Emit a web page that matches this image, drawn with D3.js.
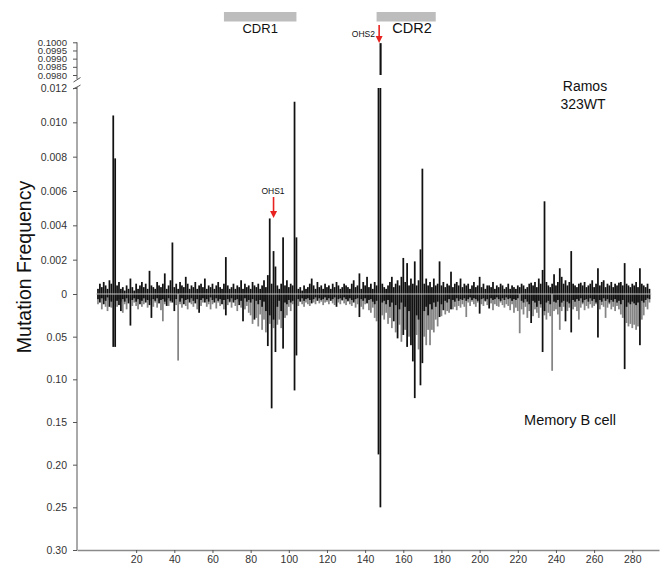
<!DOCTYPE html>
<html>
<head>
<meta charset="utf-8">
<script src="https://cdn.jsdelivr.net/npm/d3@7"></script>
<style>
  html, body { margin: 0; padding: 0; background: #fff; }
  svg { display: block; font-family: "Liberation Sans", Arial, Helvetica, sans-serif; }
</style>
</head>
<body>
<svg id="chart" width="660" height="565"></svg>
<script>
// Ramos 323WT mutation frequency per position (upper), x 1e-3
const ramosUpper = [
  0.3,0.6,0.4,0.7,0.5,0.3,0.8,0.6,10.4,7.9,
  0.5,0.7,0.3,0.4,0.2,0.5,0.3,0.9,0.4,0.2,
  0.6,0.3,0.5,0.7,0.4,0.6,0.3,1.35,0.5,0.4,
  0.3,0.7,0.5,0.4,0.6,1.2,0.3,0.5,0.8,3.0,
  0.4,0.6,0.3,0.7,0.5,0.4,1.0,0.6,0.3,0.5,
  0.4,0.7,0.3,0.5,0.6,0.4,0.9,0.3,0.5,0.4,
  0.6,0.3,0.5,0.7,0.4,0.3,0.6,2.15,0.5,0.3,
  0.4,0.6,0.3,0.5,0.4,0.8,0.3,0.6,0.4,0.5,
  0.3,0.7,0.5,0.4,0.6,0.3,0.5,0.8,0.4,1.1,
  4.4,0.6,2.5,1.6,0.5,0.3,0.6,3.3,0.5,0.8,
  0.4,0.6,0.5,11.2,3.3,0.3,0.4,0.2,0.5,0.3,
  0.4,0.6,0.9,0.5,0.3,0.7,0.4,0.5,0.3,0.6,
  0.4,0.5,0.3,0.6,0.4,0.7,0.5,0.3,0.4,0.6,
  0.5,0.4,0.3,0.6,0.8,0.4,0.5,1.2,0.3,0.7,
  0.5,1.0,0.4,0.6,0.3,0.7,0.5,45,99.95,0.6,
  0.4,0.3,0.5,0.7,1.0,0.4,0.6,0.8,0.5,1.0,
  2.1,0.7,1.8,0.5,0.9,0.6,1.9,0.5,0.8,2.6,
  7.3,0.6,0.9,0.5,0.7,0.4,0.9,0.5,0.6,1.9,
  0.5,0.7,0.4,0.6,0.5,1.3,0.4,0.6,0.7,0.5,
  0.9,0.4,0.6,0.5,0.6,0.3,0.5,0.7,0.4,0.5,
  1.0,0.4,0.6,0.3,0.5,0.5,0.4,0.7,0.3,0.5,
  0.4,0.6,0.5,0.3,0.4,0.6,0.3,0.5,0.4,0.3,
  0.5,0.4,0.6,0.5,0.3,0.4,0.6,0.66,0.5,0.7,
  0.4,0.9,0.6,1.4,5.4,0.7,0.5,0.4,0.6,1.15,
  0.5,0.7,1.5,1.0,0.6,0.8,0.5,0.7,2.5,0.6,
  0.5,0.4,0.6,0.66,0.5,0.7,0.4,0.5,0.6,0.8,
  0.4,0.6,1.5,0.5,0.7,0.8,0.4,0.6,0.5,0.7,
  0.4,0.6,0.5,0.66,0.7,0.5,1.8,0.6,0.5,0.4,
  0.6,0.5,0.7,0.4,1.5,0.6,0.5,0.4,0.6,0.3
];
// Memory B cell mutation frequency (lower), x 1e-2, black series
const memoryBlack = [
  0.6,1.0,0.5,1.2,0.8,0.4,1.5,0.9,6.2,6.2,
  0.8,1.3,2.0,0.6,0.9,0.5,1.1,3.7,0.7,0.5,
  0.9,0.6,1.2,0.8,0.5,1.0,0.7,1.3,2.8,0.6,
  0.8,0.5,1.1,0.7,0.6,0.9,1.4,0.5,0.8,1.0,
  2.0,0.6,0.0,0.9,0.5,1.2,0.7,0.6,1.0,0.5,
  0.8,1.1,0.6,2.2,0.7,0.5,1.0,0.6,0.9,0.4,
  0.7,1.0,0.5,0.8,0.6,1.2,0.7,2.5,0.6,0.9,
  0.5,1.0,0.7,0.6,1.3,0.8,3.2,0.5,0.9,0.7,
  1.0,0.6,3.0,0.8,1.2,0.7,1.5,0.9,2.0,6.1,
  2.5,13.4,3.0,6.8,1.5,0.8,2.0,6.4,1.0,1.2,
  0.7,1.0,0.8,11.3,7.2,0.6,0.9,0.5,0.8,0.6,
  0.5,0.7,1.1,0.6,0.4,0.8,0.5,0.7,0.6,0.4,
  0.7,0.5,0.8,0.6,0.4,1.5,0.6,0.5,0.7,0.4,
  0.6,0.8,0.5,0.7,1.0,0.6,0.5,2.7,0.6,0.8,
  0.5,1.1,0.7,0.6,0.9,1.2,0.8,18.8,25.0,1.0,
  0.8,1.2,0.7,1.5,1.0,3.2,1.3,5.2,1.8,1.0,
  4.8,1.5,6.2,2.0,6.0,7.9,12.2,2.5,3.0,10.7,
  8.1,2.0,1.5,2.5,1.2,1.8,1.0,1.5,0.9,2.7,
  1.2,1.9,0.8,1.0,0.6,1.8,0.7,0.9,0.5,0.8,
  0.6,0.7,0.5,0.8,0.6,0.4,0.7,0.5,0.6,0.8,
  2.3,0.6,0.5,0.8,0.6,1.7,0.5,0.7,0.6,0.4,
  0.6,0.8,0.5,0.7,0.4,0.6,0.5,0.8,0.6,0.7,
  0.5,0.0,0.8,1.0,0.6,0.9,1.2,3.4,0.8,1.0,
  1.5,0.8,1.2,6.8,2.0,1.0,0.8,1.2,0.0,0.9,
  1.0,0.7,1.5,1.0,0.8,3.2,0.9,1.1,4.5,0.7,
  0.9,0.6,0.8,0.5,1.0,0.7,0.6,0.9,0.5,0.8,
  0.6,1.0,5.1,0.7,0.9,0.5,0.8,0.6,1.0,0.7,
  0.9,0.6,1.0,0.8,1.2,0.7,8.8,1.5,1.0,1.2,
  0.9,1.1,1.3,1.0,6.0,0.8,1.0,0.7,0.5,0.6
];
// Memory B cell, gray series, x 1e-2
const memoryGray = [
  1.2,0.5,1.8,0.6,1.5,2.0,0.7,1.6,0,0,
  1.5,0.6,0.9,2.2,1.2,1.8,0.8,0,1.4,1.0,
  1.4,1.8,0.7,1.5,1.2,0.6,1.6,0.8,0,1.5,
  1.0,1.6,0.8,1.9,3.2,1.2,0.7,1.4,1.0,0.6,
  0,1.3,7.8,1.2,1.6,0.8,1.4,1.8,0.7,1.2,
  1.5,0.6,1.8,0,1.4,1.0,0.7,1.5,1.2,1.8,
  1.2,0.6,1.7,1.0,1.4,0.7,1.8,0,1.3,1.0,
  1.6,0.8,1.4,2.0,0.9,1.6,0,1.8,1.4,2.2,
  2.5,3.5,0,2.8,3.8,2.4,4.2,3.0,4.5,0,
  3.5,0,4.0,0,3.6,3.0,4.0,0,2.8,2.5,
  1.5,2.0,1.2,0,0,1.4,0.8,1.2,1.5,1.0,
  1.2,1.4,0.7,1.0,1.2,0.6,1.1,0.9,1.3,1.0,
  0.9,1.2,0.6,1.1,1.3,0,1.0,1.2,0.8,1.1,
  1.3,0.9,1.2,1.4,0.8,1.6,1.2,0,1.5,1.8,
  1.2,1.0,1.9,2.2,1.6,2.8,3.2,0,0,2.5,
  3.0,2.2,3.5,2.8,4.0,0,4.5,0,3.6,5.6,
  0,4.2,0,5.0,0,0,0,4.8,6.5,0,
  0,5.0,6.0,4.2,6.0,4.2,4.5,3.0,3.8,0,
  2.6,0,2.4,2.0,2.2,0,1.8,1.5,1.9,1.4,
  1.6,1.2,1.5,2.7,1.0,1.4,0.9,1.2,1.5,1.0,
  0,1.2,1.4,0.9,1.3,0,1.1,1.9,1.2,1.4,
  1.5,1.0,1.3,1.6,1.2,1.4,1.9,1.2,2.2,1.6,
  2.0,4.6,1.8,2.4,1.5,2.8,2.0,0,2.6,1.8,
  2.2,2.8,1.6,0,2.5,3.0,2.2,2.6,9.0,2.0,
  1.8,2.4,4.2,2.0,1.5,0,2.0,1.6,0,1.8,
  1.5,2.0,3.0,1.6,1.2,1.9,1.4,1.7,1.2,1.6,
  1.4,1.2,0,1.8,1.3,1.5,2.8,1.6,1.2,1.8,
  1.5,2.0,1.4,1.8,2.4,2.8,0,3.4,3.8,3.5,
  4.0,3.6,4.2,3.8,0,3.0,2.5,1.5,1.8,1.0
];
const xTicks = [20,40,60,80,100,120,140,160,180,200,220,240,260,280];
const upperTicks = [0,0.002,0.004,0.006,0.008,0.010,0.012];
const topTicks = [0.0980,0.0985,0.0990,0.0995,0.1000];
const lowerTicks = [0.05,0.10,0.15,0.20,0.25,0.30];
const regions = [{name:"CDR1", start:66, end:104}, {name:"CDR2", start:146, end:177}];
const hotspots = [{name:"OHS1", pos:92}, {name:"OHS2", pos:147.6}];

const svg = d3.select("#chart");
const x = d3.scaleLinear().domain([-11, 294]).range([77, 659]);
const yUp = d3.scaleLinear().domain([0, 0.012]).range([294, 88]);
const yTop = d3.scaleLinear().domain([0.098, 0.1]).range([75, 42.3]);
const yLow = d3.scaleLinear().domain([0, 0.30]).range([294, 550]);

const up = ramosUpper.map((v, i) => ({pos: i, v: v / 1000}));
const lb = memoryBlack.map((v, i) => ({pos: i, v: v / 100}));
const lg = memoryGray.map((v, i) => ({pos: i, v: v / 100}));
const bw = 1.75;

// lower gray
svg.append("g").selectAll("rect").data(lg.filter(d => d.v > 0)).join("rect")
  .attr("x", d => x(d.pos) - bw/2).attr("width", bw)
  .attr("y", yLow(0)).attr("height", d => yLow(d.v) - yLow(0))
  .attr("fill", "#858585");
// lower black
svg.append("g").selectAll("rect").data(lb.filter(d => d.v > 0)).join("rect")
  .attr("x", d => x(d.pos) - bw/2).attr("width", bw)
  .attr("y", yLow(0)).attr("height", d => yLow(d.v) - yLow(0))
  .attr("fill", "#111");
// upper (clipped at 0.012)
svg.append("g").selectAll("rect").data(up).join("rect")
  .attr("x", d => x(d.pos) - bw/2).attr("width", bw)
  .attr("y", d => yUp(Math.min(d.v, 0.012)))
  .attr("height", d => yUp(0) - yUp(Math.min(d.v, 0.012)))
  .attr("fill", "#111");
// top broken panel
svg.append("g").selectAll("rect").data(up.filter(d => d.v > 0.098)).join("rect")
  .attr("x", d => x(d.pos) - bw/2).attr("width", 2.1)
  .attr("y", d => yTop(d.v)).attr("height", d => yTop(0.098) - yTop(d.v))
  .attr("fill", "#111");

// zero line
svg.append("line").attr("x1", x(0) - 2).attr("x2", x(289) + 2)
  .attr("y1", yUp(0)).attr("y2", yUp(0))
  .attr("stroke", "#c8c8c8").attr("stroke-width", 1);

function styleAxis(g, fs) {
  g.select(".domain").remove();
  g.selectAll(".tick line").attr("stroke", "#555");
  g.selectAll(".tick text").attr("fill", "#333").style("font-size", fs)
    .style("font-family", "'Liberation Sans', Arial, sans-serif");
}
const axUp = svg.append("g").attr("transform", "translate(77,0)")
  .call(d3.axisLeft(yUp).tickValues(upperTicks).tickSize(4).tickPadding(6)
    .tickFormat(d => d === 0 ? "0" : d3.format(".3f")(d)));
styleAxis(axUp, "10.5px");
const axLow = svg.append("g").attr("transform", "translate(77,0)")
  .call(d3.axisLeft(yLow).tickValues(lowerTicks).tickSize(4).tickPadding(6)
    .tickFormat(d3.format(".2f")));
styleAxis(axLow, "10.5px");
const axTop = svg.append("g").attr("transform", "translate(77,0)")
  .call(d3.axisLeft(yTop).tickValues(topTicks).tickSize(4).tickPadding(6)
    .tickFormat(d3.format(".4f")));
styleAxis(axTop, "9.6px");

// y axis lines with break
svg.append("line").attr("x1", 77).attr("x2", 77).attr("y1", yTop(0.1)).attr("y2", 79)
  .attr("stroke", "#555").attr("stroke-width", 1);
svg.append("line").attr("x1", 77).attr("x2", 77).attr("y1", 87).attr("y2", 550)
  .attr("stroke", "#555").attr("stroke-width", 1);
svg.append("path").attr("d", "M73.5,82 L80.5,77.5").attr("stroke", "#555").attr("fill", "none");
svg.append("path").attr("d", "M73,89 Q75,88 77,87 T80.5,85").attr("stroke", "#555").attr("fill", "none");

// x axis
const axX = svg.append("g").attr("transform", "translate(0,550)")
  .call(d3.axisBottom(x).tickValues(xTicks).tickSize(3).tickPadding(3).tickSizeOuter(0));
axX.select(".domain").attr("stroke", "#8a8a8a").attr("stroke-width", 1.6);
axX.selectAll(".tick line").attr("stroke", "#555");
axX.selectAll(".tick text").attr("fill", "#333").style("font-size", "10.5px")
  .style("font-family", "'Liberation Sans', Arial, sans-serif");

// y label
svg.append("text").attr("transform", "translate(31,267) rotate(-90)")
  .attr("text-anchor", "middle").style("font-size", "19.5px").attr("fill", "#111")
  .text("Mutation Frequency");

// CDR regions
svg.append("g").selectAll("rect").data(regions).join("rect")
  .attr("x", d => x(d.start)).attr("width", d => x(d.end) - x(d.start))
  .attr("y", 12).attr("height", 9.5).attr("fill", "#bdbdbd");
svg.append("text").attr("x", (x(regions[0].start) + x(regions[0].end)) / 2).attr("y", 33)
  .attr("text-anchor", "middle").style("font-size", "13px").attr("fill", "#111").text(regions[0].name);
svg.append("text").attr("x", 412).attr("y", 32.5)
  .attr("text-anchor", "middle").style("font-size", "14.5px").attr("fill", "#111").text(regions[1].name);

// hotspot arrows
function arrow(xc, y1, y2) {
  svg.append("line").attr("x1", xc).attr("x2", xc).attr("y1", y1).attr("y2", y2 - 5)
    .attr("stroke", "#e8231f").attr("stroke-width", 1.6);
  svg.append("path").attr("d", `M${xc-3.5},${y2-7} L${xc+3.5},${y2-7} L${xc},${y2} Z`).attr("fill", "#e8231f");
}
arrow(x(hotspots[0].pos), 197, 218);
svg.append("text").attr("x", x(hotspots[0].pos) - 0.5).attr("y", 194).attr("text-anchor", "middle")
  .style("font-size", "8.5px").attr("fill", "#111").text(hotspots[0].name);
arrow(x(hotspots[1].pos) - 0.5, 25, 43);
svg.append("text").attr("x", 375).attr("y", 37).attr("text-anchor", "end")
  .style("font-size", "8.5px").attr("fill", "#111").text(hotspots[1].name);

// annotations
svg.append("text").attr("x", 585).attr("y", 91).attr("text-anchor", "middle")
  .style("font-size", "14px").attr("fill", "#111").text("Ramos");
svg.append("text").attr("x", 583).attr("y", 109).attr("text-anchor", "middle")
  .style("font-size", "14px").attr("fill", "#111").text("323WT");
svg.append("text").attr("x", 570).attr("y", 425).attr("text-anchor", "middle")
  .style("font-size", "14.5px").attr("fill", "#111").text("Memory B cell");
</script>
</body>
</html>
